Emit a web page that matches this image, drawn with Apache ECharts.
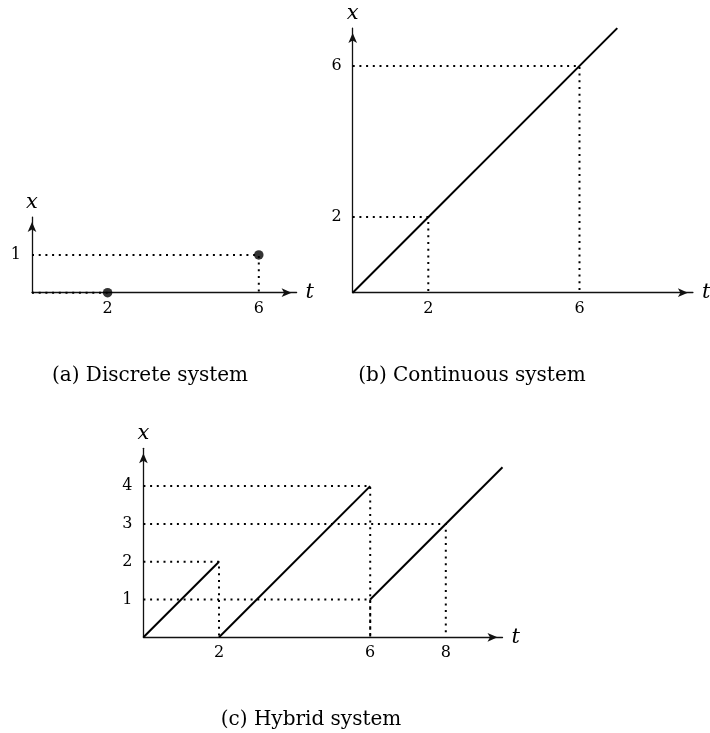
<!DOCTYPE html>
<html>
<head>
<meta charset="utf-8">
<script src="https://cdn.jsdelivr.net/npm/echarts@6/dist/echarts.min.js"></script>
<style>
  html, body { margin: 0; padding: 0; background: #fff; }
  #chart { width: 710px; height: 733px; }
</style>
</head>
<body>
<div id="chart"></div>
<script>
// (a) Discrete system: states reached at discrete instants
const discreteStates = [[2, 0], [6, 1]];
const discreteGuides = [
  [[0, 0], [2, 0]],
  [[0, 1], [6, 1], [6, 0]]
];
const discreteTicksT = [2, 6];
const discreteTicksX = [1];
const discreteRange = [7, 2];          // [t max, x max]

// (b) Continuous system: x grows linearly with t
const continuousLine = [[0, 0], [7, 7]];
const continuousGuides = [
  [[0, 2], [2, 2], [2, 0]],
  [[0, 6], [6, 6], [6, 0]]
];
const continuousTicksT = [2, 6];
const continuousTicksX = [2, 6];
const continuousRange = [9, 7];

// (c) Hybrid system: continuous flow with resets
const hybridSegments = [
  [[0, 0], [2, 2]],
  [[2, 0], [6, 4]],
  [[6, 1], [9.5, 4.5]]
];
const hybridGuides = [
  [[0, 2], [2, 2], [2, 0]],
  [[0, 4], [6, 4], [6, 0]],
  [[0, 1], [6, 1]],
  [[6, 1], [6, 0]],
  [[0, 3], [8, 3], [8, 0]]
];
const hybridTicksT = [2, 6, 8];
const hybridTicksX = [1, 2, 3, 4];
const hybridRange = [9.5, 5];

const captions = ['(a) Discrete system', '(b) Continuous system', '(c) Hybrid system'];

// ---- layout ----
const UNIT = 37.8;                     // pixels per axis unit
const panels = [
  { origin: [32, 292.7],    range: discreteRange,   ticksT: discreteTicksT,   ticksX: discreteTicksX },
  { origin: [352.7, 292.7], range: continuousRange, ticksT: continuousTicksT, ticksX: continuousTicksX },
  { origin: [143.4, 637.3], range: hybridRange,     ticksT: hybridTicksT,     ticksX: hybridTicksX }
];

const SERIF = '"DejaVu Serif", "Liberation Serif", serif';
const INK = '#000';
const AXIS_INK = '#111';
const ARROW = { symbol: ['none', 'arrow'], symbolSize: [6.5, 10], symbolOffset: [0, -5] };

const grids = panels.map(p => ({
  left: p.origin[0],
  top: p.origin[1] - p.range[1] * UNIT,
  width: p.range[0] * UNIT,
  height: p.range[1] * UNIT,
  containLabel: false,
  outerBoundsMode: 'none'
}));

const xAxes = panels.map((p, i) => ({
  type: 'value', gridIndex: i, min: 0, max: p.range[0],
  name: 't', nameLocation: 'end', nameGap: 9,
  nameTextStyle: { fontFamily: SERIF, fontStyle: 'italic', fontSize: 21, color: INK, align: 'left', verticalAlign: 'middle' },
  axisLine: Object.assign({ show: true, onZero: false, lineStyle: { color: AXIS_INK, width: 1.3 } }, ARROW),
  axisTick: { show: false },
  splitLine: { show: false },
  axisLabel: { customValues: p.ticksT, margin: 8, fontFamily: SERIF, fontSize: 16, color: INK }
}));

const yAxes = panels.map((p, i) => ({
  type: 'value', gridIndex: i, min: 0, max: p.range[1],
  name: 'x', nameLocation: 'end', nameGap: 15,
  nameTextStyle: { fontFamily: SERIF, fontStyle: 'italic', fontSize: 21, color: INK, align: 'center', verticalAlign: 'middle' },
  axisLine: Object.assign({ show: true, onZero: false, lineStyle: { color: AXIS_INK, width: 1.3 } }, ARROW),
  axisTick: { show: false },
  splitLine: { show: false },
  axisLabel: { customValues: p.ticksX, margin: 11, fontFamily: SERIF, fontSize: 16, color: INK }
}));

function guideSeries(path, idx) {
  return {
    type: 'line', xAxisIndex: idx, yAxisIndex: idx, data: path,
    symbol: 'none', clip: false, silent: true, z: 2,
    lineStyle: { color: INK, width: 2, type: [2, 4.7], cap: 'butt' }
  };
}
function solidSeries(path, idx) {
  return {
    type: 'line', xAxisIndex: idx, yAxisIndex: idx, data: path,
    symbol: 'none', clip: false, silent: true, z: 3,
    lineStyle: { color: INK, width: 2 }
  };
}

const series = [];
discreteGuides.forEach(g => series.push(guideSeries(g, 0)));
series.push({
  type: 'scatter', xAxisIndex: 0, yAxisIndex: 0, data: discreteStates,
  symbol: 'circle', symbolSize: 9.5, clip: false, silent: true, z: 4,
  itemStyle: { color: INK }
});
continuousGuides.forEach(g => series.push(guideSeries(g, 1)));
series.push(solidSeries(continuousLine, 1));
hybridGuides.forEach(g => series.push(guideSeries(g, 2)));
hybridSegments.forEach(s => series.push(solidSeries(s, 2)));

const captionPos = [[150, 366], [472, 366], [311, 710]];
const titles = captions.map((c, i) => ({
  text: c, left: captionPos[i][0], top: captionPos[i][1],
  textAlign: 'center', padding: 0,
  textStyle: { fontFamily: SERIF, fontWeight: 'normal', fontSize: 20, color: INK }
}));

const chart = echarts.init(document.getElementById('chart'), null, { renderer: 'canvas' });
chart.setOption({
  animation: false,
  backgroundColor: '#fff',
  title: titles,
  grid: grids,
  xAxis: xAxes,
  yAxis: yAxes,
  series: series
});
</script>
</body>
</html>
